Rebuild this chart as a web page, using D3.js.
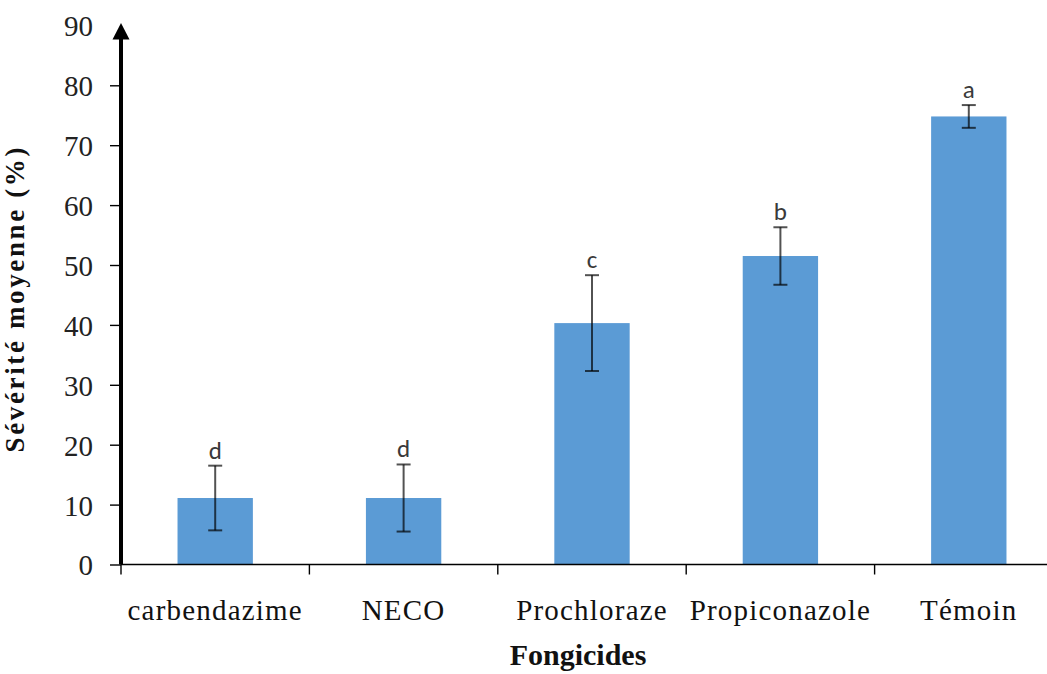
<!DOCTYPE html>
<html>
<head>
<meta charset="utf-8">
<script src="https://cdn.jsdelivr.net/npm/d3@7/dist/d3.min.js"></script>
<style>
  html, body { margin: 0; padding: 0; background: #fff; }
  svg { display: block; }
</style>
</head>
<body>
<svg id="chart" width="1047" height="674"></svg>
<script>
// Mean severity per fungicide treatment, with error bars and significance groups
const categories = ["carbendazime", "NECO", "Prochloraze", "Propiconazole", "Témoin"];
const severity = [11.1, 11.1, 40.3, 51.5, 74.8];
const errors = [5.4, 5.6, 8.0, 4.8, 1.9];
const groups = ["d", "d", "c", "b", "a"];
const yTicks = [0, 10, 20, 30, 40, 50, 60, 70, 80, 90];

const svg = d3.select("#chart");
const serif = "'Liberation Serif', 'Times New Roman', serif";

const x = d3.scaleBand()
  .domain(categories)
  .range([121, 1063])
  .paddingInner(0.6)
  .paddingOuter(0.3);

const y = d3.scaleLinear().domain([0, 90]).range([564.5, 25.4]);

const rows = categories.map((c, i) => ({
  cat: c, value: severity[i], err: errors[i], group: groups[i]
}));

// Bars
svg.append("g").selectAll("rect")
  .data(rows)
  .join("rect")
  .attr("x", d => x(d.cat))
  .attr("y", d => y(d.value))
  .attr("width", x.bandwidth())
  .attr("height", d => y(0) - y(d.value))
  .attr("fill", "#5B9BD5");

// Error bars
const eb = svg.append("g")
  .attr("stroke", "#000")
  .attr("stroke-opacity", 0.68)
  .attr("stroke-width", 2);
const cx = d => x(d.cat) + x.bandwidth() / 2;
const capHalf = 7;
eb.selectAll("line.stem").data(rows).join("line")
  .attr("class", "stem")
  .attr("x1", cx).attr("x2", cx)
  .attr("y1", d => y(d.value + d.err))
  .attr("y2", d => y(d.value - d.err));
eb.selectAll("line.top").data(rows).join("line")
  .attr("class", "top")
  .attr("x1", d => cx(d) - capHalf).attr("x2", d => cx(d) + capHalf)
  .attr("y1", d => y(d.value + d.err)).attr("y2", d => y(d.value + d.err));
eb.selectAll("line.bottom").data(rows).join("line")
  .attr("class", "bottom")
  .attr("x1", d => cx(d) - capHalf).attr("x2", d => cx(d) + capHalf)
  .attr("y1", d => y(d.value - d.err)).attr("y2", d => y(d.value - d.err));

// Significance letters
svg.append("g").selectAll("text")
  .data(rows)
  .join("text")
  .attr("x", cx)
  .attr("y", d => y(d.value + d.err) - 7)
  .attr("text-anchor", "middle")
  .attr("font-family", "Carlito, 'Liberation Sans', Arial, sans-serif")
  .attr("font-size", 25)
  .attr("fill", "#3a3a3a")
  .text(d => d.group);

// X axis: baseline with ticks between categories
const step = x.step();
const x0 = x.range()[0];
const xAxis = svg.append("g");
xAxis.append("line")
  .attr("x1", x0).attr("x2", 1047)
  .attr("y1", y(0)).attr("y2", y(0))
  .attr("stroke", "#000").attr("stroke-width", 1.6);
xAxis.selectAll("line.tick")
  .data(d3.range(categories.length))
  .join("line")
  .attr("class", "tick")
  .attr("x1", i => x0 + i * step).attr("x2", i => x0 + i * step)
  .attr("y1", y(0)).attr("y2", y(0) + 10)
  .attr("stroke", "#000").attr("stroke-width", 1.4);
xAxis.selectAll("text")
  .data(categories)
  .join("text")
  .attr("x", d => x(d) + x.bandwidth() / 2)
  .attr("y", 620)
  .attr("text-anchor", "middle")
  .attr("font-family", serif)
  .attr("font-size", 29)
  .attr("letter-spacing", 1.2)
  .attr("fill", "#111")
  .text(d => d);

// Y axis: thick line with arrowhead, ticks on the outside
const yAxis = svg.append("g")
  .attr("transform", "translate(121,0)")
  .call(d3.axisLeft(y).tickValues(yTicks).tickSize(11).tickPadding(17).tickFormat(d3.format("d")));
yAxis.select(".domain").remove();
yAxis.selectAll(".tick line").attr("stroke", "#000").attr("stroke-width", 1.4);
yAxis.selectAll(".tick").filter(d => d === 90).select("line").remove();
yAxis.selectAll(".tick text")
  .attr("font-family", serif)
  .attr("font-size", 29)
  .attr("fill", "#222")
  .attr("dy", "0.36em");
svg.append("line")
  .attr("x1", 121).attr("x2", 121)
  .attr("y1", y(0)).attr("y2", y(90) + 12)
  .attr("stroke", "#000").attr("stroke-width", 4);
svg.append("path")
  .attr("d", d3.line()([[121, y(90) - 2.5], [112.5, y(90) + 14], [129.5, y(90) + 14]]) + "Z")
  .attr("fill", "#000");

// Axis titles
svg.append("text")
  .attr("transform", `translate(24,300) rotate(-90)`)
  .attr("text-anchor", "middle")
  .attr("font-family", serif)
  .attr("font-weight", "bold")
  .attr("font-size", 27)
  .attr("textLength", 305)
  .attr("lengthAdjust", "spacing")
  .attr("fill", "#111")
  .text("Sévérité moyenne (%)");

svg.append("text")
  .attr("x", 578)
  .attr("y", 665)
  .attr("text-anchor", "middle")
  .attr("font-family", serif)
  .attr("font-weight", "bold")
  .attr("font-size", 30)
  .attr("fill", "#111")
  .text("Fongicides");
</script>
</body>
</html>
